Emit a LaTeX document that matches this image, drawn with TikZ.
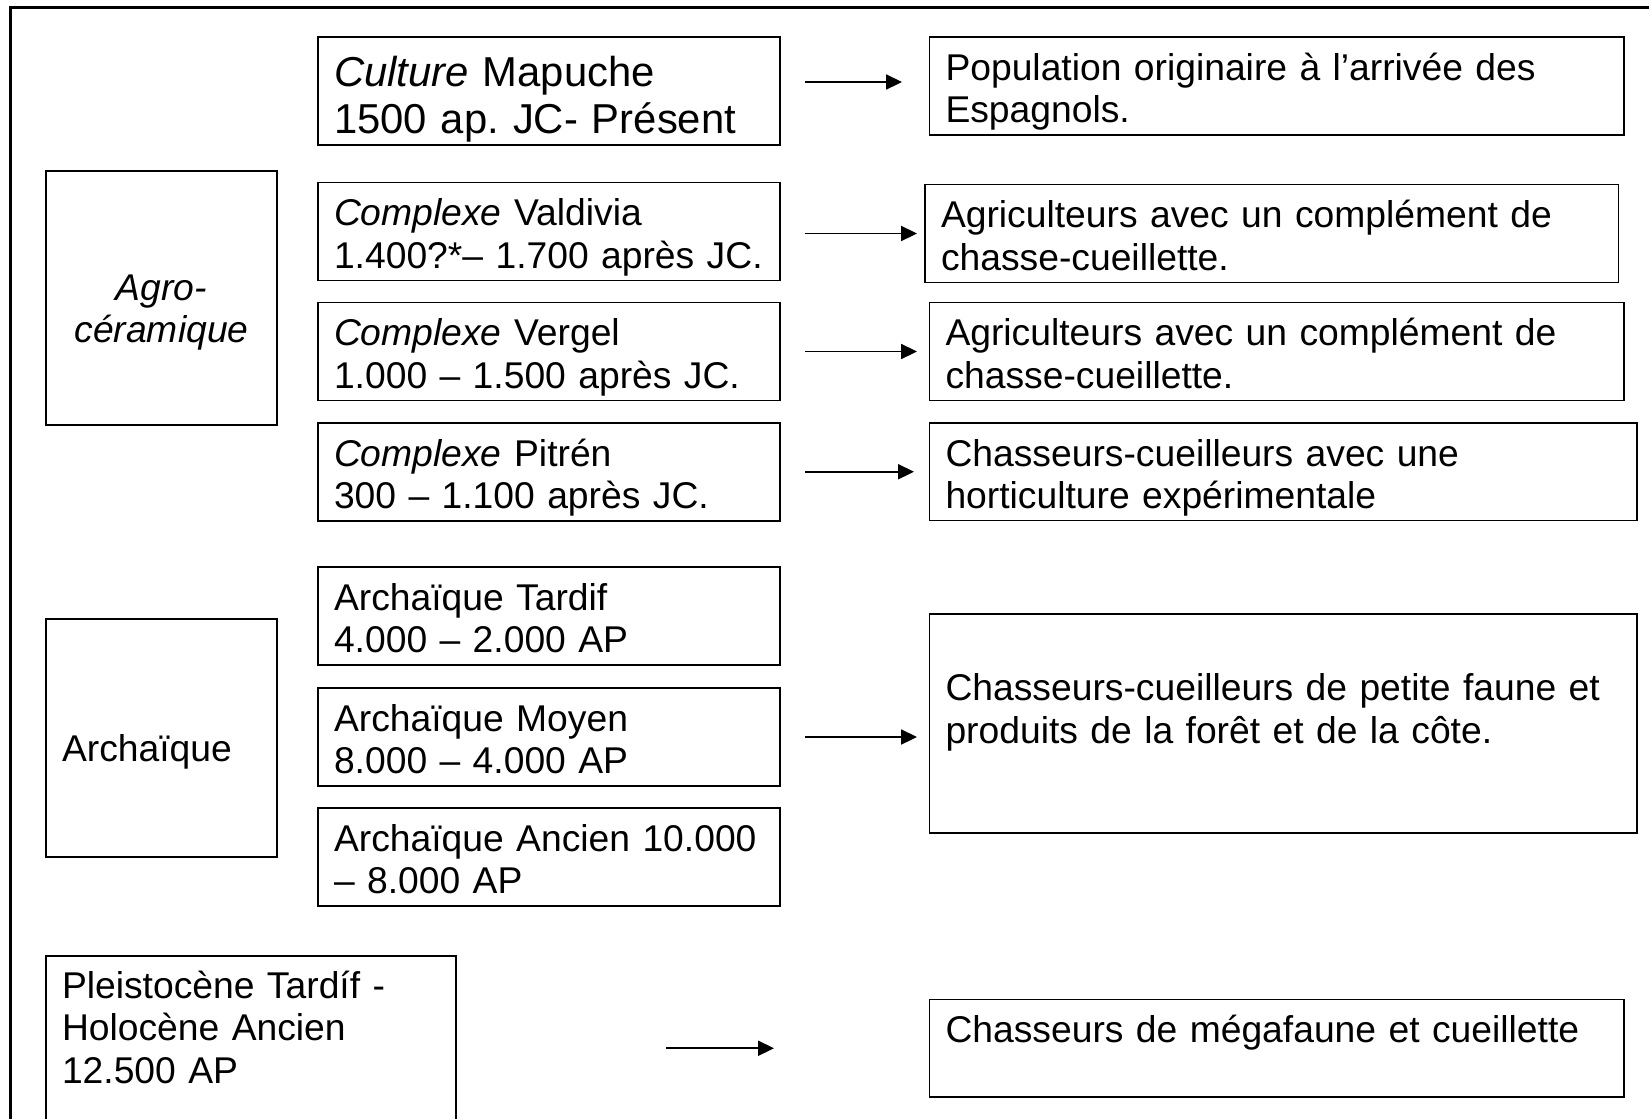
\documentclass[tikz,border=0pt]{standalone}
\usepackage{fontspec}
\setmainfont{Liberation Sans}
\usetikzlibrary{arrows.meta, positioning, calc}
\newcommand{\txtsize}{\fontsize{21.2}{24.4}\selectfont}
\newcommand{\bigtxtsize}{\fontsize{23.8}{27.3}\selectfont}
\frenchspacing

\begin{document}
\begin{tikzpicture}[
        period/.style={rectangle, draw, line width=0.9pt, outer sep=0pt, align=left, inner xsep=0.32cm, inner ysep=0pt, text height=0.86cm, font=\txtsize},
        midbox/.style={period, text width=8.6cm, text depth=1.10cm},
        descbox/.style={period, text width=13.25cm, text depth=1.10cm},
        sidebox/.style={period, text width=3.98cm},
        link/.style={-{Triangle[length=9pt, width=8.5pt]}, line width=1pt}
    ]
        % Page and frame
        \useasboundingbox (0,0) rectangle (32.98,-22.36);
        \clip (0,0) rectangle (32.98,-22.36);
        \draw[line width=1.3pt] (0.21,-23) |- (34,-0.15);

        % Periods
        \node[midbox, font=\bigtxtsize, text height=0.98cm, text depth=1.18cm, anchor=north west] (mapuche) at (6.36,-0.74) {\textit{Culture} Mapuche\\1500 ap. JC- Présent};
        \node[midbox, below=0.75cm of mapuche.south west, anchor=north west] (valdivia) {\textit{Complexe} Valdivia\\1.400?*– 1.700 après JC.};
        \node[midbox, below=0.44cm of valdivia.south west, anchor=north west] (vergel) {\textit{Complexe} Vergel\\1.000 – 1.500 après JC.};
        \node[midbox, below=0.45cm of vergel.south west, anchor=north west] (pitren) {\textit{Complexe} Pitrén\\300 – 1.100 après JC.};

        \node[midbox, below=0.92cm of pitren.south west, anchor=north west] (tardif) {Archaïque Tardif\\4.000 – 2.000 AP};
        \node[midbox, below=0.46cm of tardif.south west, anchor=north west] (moyen) {Archaïque Moyen\\8.000 – 4.000 AP};
        \node[midbox, below=0.44cm of moyen.south west, anchor=north west] (ancien) {Archaïque Ancien 10.000\\– 8.000 AP};

        % Groups
        \node[sidebox, align=center, font=\txtsize\itshape, text height=2.58cm, text depth=2.5cm, anchor=north west] (agro) at (0.92,-3.42) {Agro-\\céramique};
        \node[sidebox, text height=2.84cm, text depth=1.92cm, anchor=north west] (archaique) at (0.92,-12.38) {Archaïque};
        \node[sidebox, text width=7.56cm, text height=0.84cm, text depth=4cm, anchor=north west] (pleisto) at (0.92,-19.12) {Pleistocène Tardíf -\\Holocène Ancien\\12.500 AP};

        % Ways of life
        \node[descbox, right=2.99cm of mapuche.north east, anchor=north west] (population) {Population originaire à l’arrivée des\\Espagnols.};
        \node[descbox, text width=13.23cm, right=2.9cm of valdivia.north east, anchor=north west, yshift=-0.04cm] (valdiviadesc) {Agriculteurs avec un complément de\\chasse-cueillette.};
        \node[descbox, right=2.99cm of vergel.north east, anchor=north west] (vergeldesc) {Agriculteurs avec un complément de\\chasse-cueillette.};
        \node[descbox, text width=13.51cm, text depth=1.09cm, right=2.99cm of pitren.north east, anchor=north west] (pitrendesc) {Chasseurs-cueilleurs avec une\\horticulture expérimentale};
        \node[descbox, text width=13.51cm, text height=1.73cm, text depth=2.65cm, right=2.99cm of tardif.north east, anchor=north west, yshift=-0.94cm] (archdesc) {Chasseurs-cueilleurs de petite faune et\\produits de la forêt et de la côte.};
        \node[descbox, text depth=1.09cm, below=3.33cm of archdesc.south west, anchor=north west] (megafaune) {Chasseurs de mégafaune et cueillette};

        % Arrows
        \draw[link] ($(mapuche.east |- population.west)+(0.5,0.08)$) -- ($(population.west)+(-0.55,0.08)$);
        \draw[link] ($(valdivia.east |- valdiviadesc.west)+(0.5,0)$) -- ($(valdiviadesc.west)+(-0.16,0)$);
        \draw[link] ($(vergel.east |- vergeldesc.west)+(0.5,0)$) -- ($(vergeldesc.west)+(-0.25,0)$);
        \draw[link] ($(pitren.east |- pitrendesc.west)+(0.5,0)$) -- ($(pitrendesc.west)+(-0.31,0)$);
        \draw[link] ($(moyen.east)+(0.5,0)$) -- ($(moyen.east -| archdesc.west)+(-0.25,0)$);
        \draw[link] ($(megafaune.west)+(-5.27,0)$) -- ($(megafaune.west)+(-3.11,0)$);
    \end{tikzpicture}
\end{document}
